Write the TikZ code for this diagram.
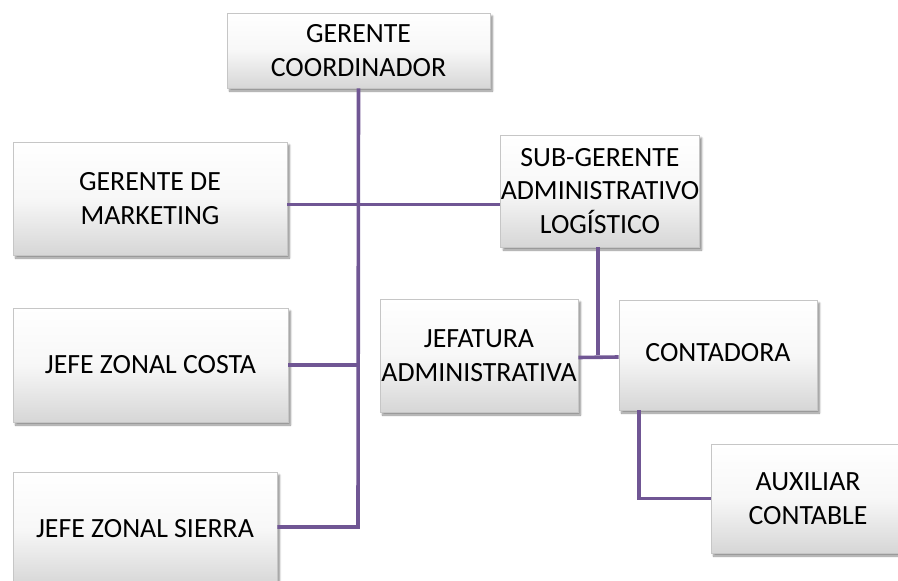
\documentclass[tikz,border=0pt]{standalone}
\usepackage{fontspec}
\setmainfont{Carlito}
\usetikzlibrary{shadows,shadows.blur}
\definecolor{linkcol}{RGB}{112,86,148}
\tikzset{
  orgbox/.style={rectangle, draw=gray!45, line width=0.6pt,
    top color=white, bottom color=gray!32, middle color=gray!6,
    blur shadow={shadow xshift=2.5pt, shadow yshift=-3pt, shadow blur steps=6, shadow opacity=45},
    align=center, inner sep=0pt,
    font=\fontsize{27.8pt}{33.5pt}\selectfont},
  link/.style={draw=linkcol, line width=3.6pt}
}
\begin{document}
\begin{tikzpicture}[x=1pt,y=-1pt]
\useasboundingbox (0,0) rectangle (898,581);
\begin{scope}
\clip (0,0) rectangle (898,581);
\node[orgbox, minimum width=263pt, minimum height=75pt] (gc) at (358.5,50.5) {GERENTE\\COORDINADOR};
\node[orgbox, minimum width=274pt, minimum height=113pt] (mk) at (150,198.5) {GERENTE DE\\MARKETING};
\node[orgbox, minimum width=196pt, minimum height=112pt] (sg) at (600,191) {SUB-GERENTE\\ADMINISTRATIVO\\LOGÍSTICO};
\node[orgbox, minimum width=275pt, minimum height=114pt] (costa) at (150.5,365) {JEFE ZONAL COSTA};
\node[orgbox, minimum width=264pt, minimum height=114pt] (sierra) at (145,529) {JEFE ZONAL SIERRA};
\node[orgbox, minimum width=198pt, minimum height=113pt] (jef) at (479,355.5) {JEFATURA\\ADMINISTRATIVA};
\node[orgbox, minimum width=198pt, minimum height=110pt] (cont) at (718,355) {\raisebox{6pt}{CONTADORA}};
\node[orgbox, minimum width=194pt, minimum height=109pt] (aux) at (808,498.5) {AUXILIAR\\CONTABLE};

\coordinate (trunkend) at (358,527);
\draw[link] (gc.south) -- (trunkend) -- (sierra.east |- trunkend);
\draw[link] ([yshift=-6pt]mk.east) -- ([yshift=-6pt]mk.east -| sg.west);
\draw[link] (costa.east) -- (costa.east -| gc.south);
\coordinate (sgfoot) at ([xshift=-2pt]sg.south);
\draw[link] (sgfoot) -- (sgfoot |- cont.west);
\draw[link] ([yshift=-2pt]jef.east) -- ([yshift=-2pt]cont.west);
\coordinate (contfoot) at ([xshift=20pt]cont.south west);
\draw[link] (contfoot) -- (contfoot |- aux.west) -- (aux.west);
\end{scope}
\end{tikzpicture}
\end{document}
